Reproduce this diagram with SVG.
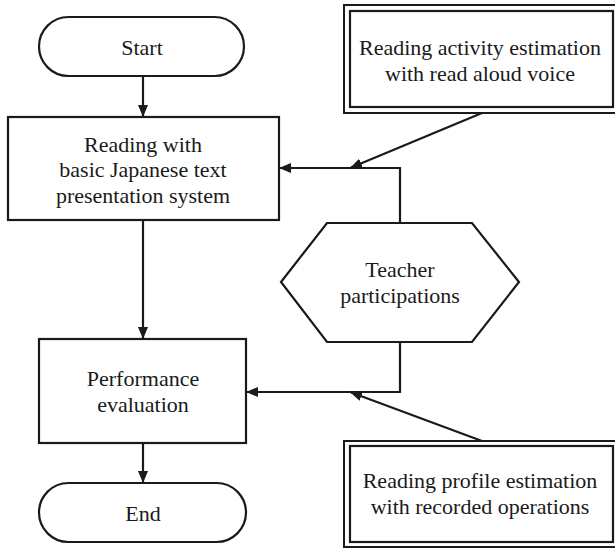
<svg xmlns="http://www.w3.org/2000/svg" width="615" height="548" viewBox="0 0 615 548">
  <style>
    .shape { fill: #ffffff; stroke: #1a1a1a; stroke-width: 2.2; }
    .thin { fill: none; stroke: #1a1a1a; stroke-width: 2; }
    .conn { fill: none; stroke: #1a1a1a; stroke-width: 2.2; }
    .lbl { font-size: 22px; fill: #1a1a1a; text-anchor: middle; }
  </style>
  <defs>
    <marker id="arrow" viewBox="0 0 12 10" refX="12" refY="5" markerWidth="12" markerHeight="10" markerUnits="userSpaceOnUse" orient="auto">
      <path d="M0,0 L12,5 L0,10 z" fill="#1a1a1a"/>
    </marker>
  </defs>
  <rect width="615" height="548" fill="#ffffff"/>

  <g font-family="'Liberation Serif', 'DejaVu Serif', serif">
  <g id="start">
    <rect class="shape" x="39" y="17" width="205" height="59" rx="29.5" ry="29.5"/>
    <text class="lbl" x="142" y="55">Start</text>
  </g>

  <g id="reading">
    <rect class="shape" x="8" y="117" width="271" height="103"/>
    <text class="lbl" x="143" y="152">Reading with</text>
    <text class="lbl" x="143" y="177">basic Japanese text</text>
    <text class="lbl" x="143" y="203">presentation system</text>
  </g>

  <g id="activity">
    <rect class="thin" x="344" y="5" width="276" height="108"/>
    <rect class="shape" x="350" y="11" width="263" height="96"/>
    <text class="lbl" x="480" y="55">Reading activity estimation</text>
    <text class="lbl" x="480" y="81">with read aloud voice</text>
  </g>

  <g id="teacher">
    <polygon class="shape" points="281,282 327,223 472,223 519,282 472,342 327,342"/>
    <text class="lbl" x="400" y="277">Teacher</text>
    <text class="lbl" x="400" y="303">participations</text>
  </g>

  <g id="performance">
    <rect class="shape" x="39" y="339" width="207" height="104"/>
    <text class="lbl" x="143" y="386">Performance</text>
    <text class="lbl" x="143" y="412">evaluation</text>
  </g>

  <g id="profile">
    <rect class="thin" x="344" y="441" width="276" height="106"/>
    <rect class="shape" x="350" y="446" width="263" height="96"/>
    <text class="lbl" x="480" y="488">Reading profile estimation</text>
    <text class="lbl" x="480" y="514">with recorded operations</text>
  </g>

  <g id="end">
    <rect class="shape" x="39" y="483" width="207" height="59" rx="29.5" ry="29.5"/>
    <text class="lbl" x="143" y="521">End</text>
  </g>
  </g>

  <g id="connectors">
    <line class="conn" x1="143" y1="76" x2="143" y2="117" marker-end="url(#arrow)"/>
    <path class="conn" d="M400,223 V168 H279" marker-end="url(#arrow)"/>
    <line class="conn" x1="482" y1="113" x2="350" y2="168" marker-end="url(#arrow)"/>
    <line class="conn" x1="143" y1="220" x2="143" y2="339" marker-end="url(#arrow)"/>
    <path class="conn" d="M400,342 V392 H246" marker-end="url(#arrow)"/>
    <line class="conn" x1="482" y1="441" x2="350" y2="392" marker-end="url(#arrow)"/>
    <line class="conn" x1="143" y1="443" x2="143" y2="483" marker-end="url(#arrow)"/>
  </g>
</svg>
